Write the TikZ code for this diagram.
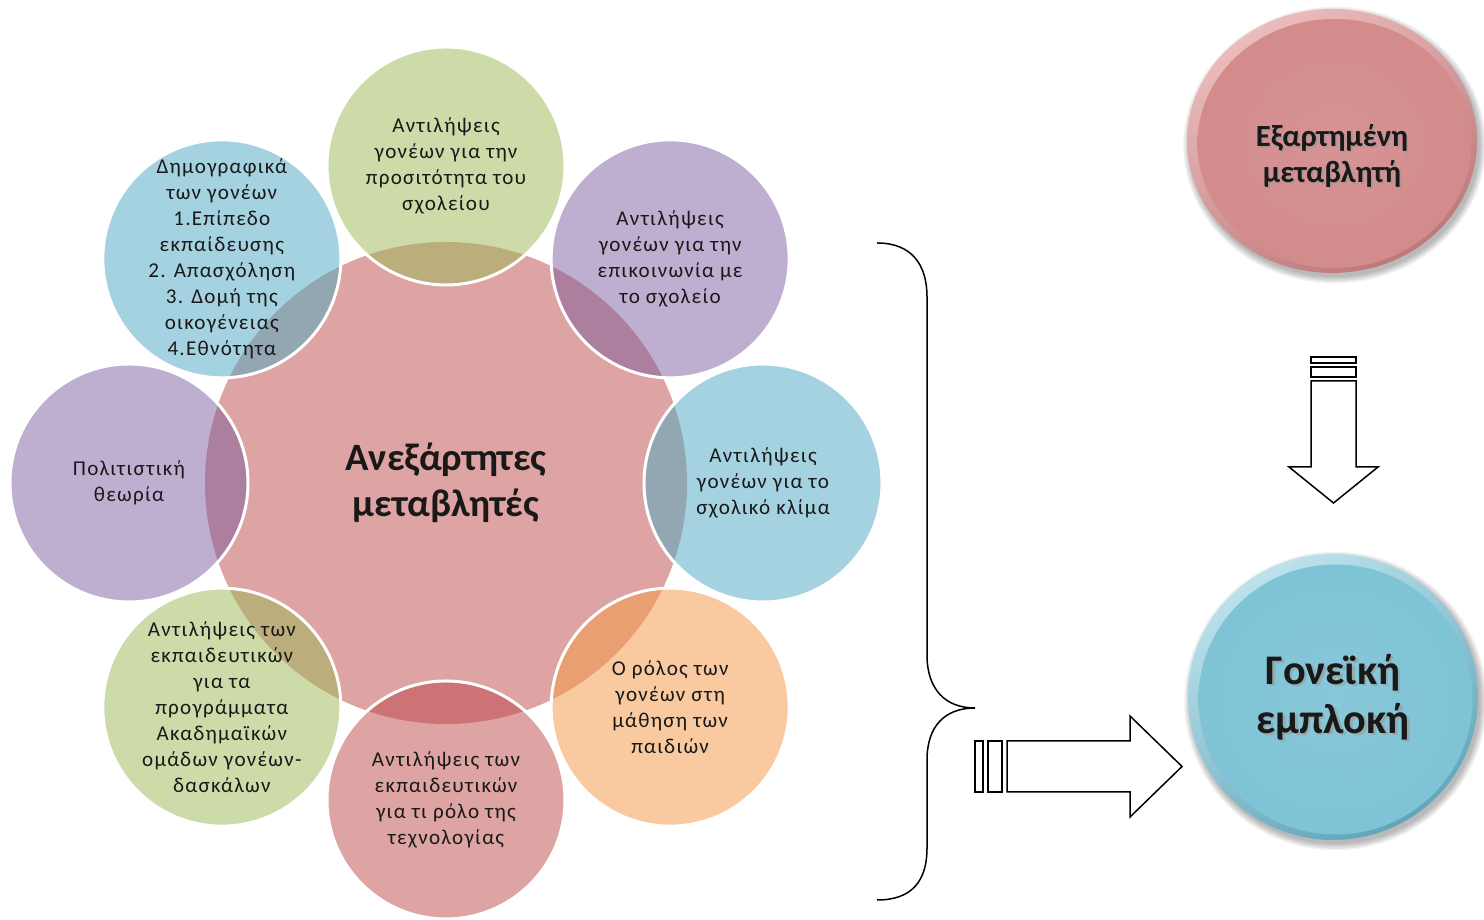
\documentclass[tikz,border=0pt]{standalone}
\usepackage{fontspec}
\setmainfont{Carlito}
\newfontfamily\satfont[LetterSpace=6]{Carlito}
\usetikzlibrary{shapes.geometric}

\definecolor{midpink}{RGB}{221,164,163}
\definecolor{satgreen}{RGB}{205,219,169}
\definecolor{satpurple}{RGB}{190,175,209}
\definecolor{satblue}{RGB}{165,210,224}
\definecolor{satorange}{RGB}{249,201,160}
\definecolor{satpink}{RGB}{221,164,163}
\definecolor{ovgreen}{RGB}{187,174,124}
\definecolor{ovpurple}{RGB}{173,127,159}
\definecolor{ovblue}{RGB}{146,167,178}
\definecolor{ovorange}{RGB}{234,159,114}
\definecolor{ovpink}{RGB}{206,115,117}
\definecolor{depface}{RGB}{211,139,140}
\definecolor{deprim}{RGB}{236,188,188}
\definecolor{depdark}{RGB}{188,120,122}
\definecolor{invface}{RGB}{126,195,214}
\definecolor{invrim}{RGB}{188,226,236}
\definecolor{invdark}{RGB}{98,165,186}

\tikzstyle{sattext}=[align=center,inner sep=0pt,text=black!90,
                     font=\satfont\fontsize{12}{14.8}\selectfont]
\tikzstyle{sat border}=[draw=white,line width=0.06cm]
\tikzstyle{block arrow}=[draw=black,fill=white,line width=0.03cm,line join=miter]
\tikzstyle{brace line}=[draw=black,line width=0.03cm]
\tikzstyle{btn shadow}=[fill=black,opacity=0.05]

\begin{document}
\begin{tikzpicture}

            \def\ring{6.34} % distance of the small circles from the middle
            \def\rsat{2.38} % radius of the small circles
            \def\rmid{4.82} % radius of the middle circle
            \useasboundingbox (0,0) rectangle (29.68,18.4);
            \coordinate (C) at (8.92,8.74);
            \coordinate (D) at (26.64,15.58); % dependent variable
            \coordinate (G) at (26.66,4.46);  % parental involvement

            % MIDDLE CIRCLE
            \fill[midpink] (C) circle (\rmid);

            % SMALL CIRCLES + overlap with the middle one
            \foreach \a/\fc/\oc [count=\i] in {90/satgreen/ovgreen,45/satpurple/ovpurple,
                0/satblue/ovblue,-45/satorange/ovorange,-90/satpink/ovpink,
                -135/satgreen/ovgreen,180/satpurple/ovpurple,135/satblue/ovblue}{
              \coordinate (p\i) at ([shift={(\a:\ring)}]C);
              \fill[\fc] (p\i) circle (\rsat);
              \begin{scope}
                \clip (C) circle (\rmid);
                \fill[\oc] (p\i) circle (\rsat);
              \end{scope}
              \draw[sat border] (p\i) circle (\rsat);
            }

            % LABELS
            \node[font=\bfseries\fontsize{22}{26}\selectfont,align=center,text=black!90]
              (indep) at (C) {Ανεξάρτητες\\μεταβλητές};
            \node[sattext] (access) at (p1) {Αντιλήψεις\\γονέων για την\\προσιτότητα του\\σχολείου};
            \node[sattext] (comm) at (p2) {Αντιλήψεις\\γονέων για την\\επικοινωνία με\\το σχολείο};
            \node[sattext] (climate) at (p3) {Αντιλήψεις\\γονέων για το\\σχολικό κλίμα};
            \node[sattext] (role) at (p4) {Ο ρόλος των\\γονέων στη\\μάθηση των\\παιδιών};
            \node[sattext] (techn) at (p5) {Αντιλήψεις των\\εκπαιδευτικών\\για τι ρόλο της\\τεχνολογίας};
            \node[sattext] (groups) at (p6) {Αντιλήψεις των\\εκπαιδευτικών\\για τα\\προγράμματα\\Ακαδημαϊκών\\ομάδων γονέων-\\δασκάλων};
            \node[sattext] (culture) at (p7) {Πολιτιστική\\θεωρία};
            \node[sattext] (demo) at (p8) {Δημογραφικά\\των γονέων\\1.Επίπεδο\\εκπαίδευσης\\2. Απασχόληση\\3. Δομή της\\οικογένειας\\4.Εθνότητα};

            % BRACE
            \draw[brace line] (17.54,13.54) .. controls (18.24,13.54) and (18.54,13.1) .. (18.54,12.46)
              -- (18.54,5.30) .. controls (18.54,4.62) and (18.9,4.24) .. (19.50,4.24)
              .. controls (18.9,4.24) and (18.54,3.88) .. (18.54,3.20)
              -- (18.54,1.44) .. controls (18.54,0.78) and (18.24,0.40) .. (17.54,0.40);

            % BUTTONS
            \foreach \k in {0,...,5}{
              \fill[btn shadow] ([shift={(0.05,-0.08)}]D) ellipse ({2.90+0.025*\k} and {2.64+0.025*\k});
              \fill[btn shadow] ([shift={(0.05,-0.08)}]G) ellipse ({2.90+0.025*\k} and {2.86+0.025*\k});
            }
            \shade[top color=deprim,bottom color=depdark,shading angle=30] (D) ellipse (2.90 and 2.64);
            \shade[inner color=depface!92!white,outer color=depface] ([shift={(0.05,-0.05)}]D) ellipse (2.74 and 2.49);
            \shade[top color=invrim,bottom color=invdark,shading angle=30] (G) ellipse (2.90 and 2.86);
            \shade[inner color=invface!92!white,outer color=invface] ([shift={(0.05,-0.05)}]G) ellipse (2.74 and 2.70);

            \node[align=center,text=black!40,opacity=0.6,font=\bfseries\fontsize{17.5}{20.5}\selectfont]
              at ([shift={(0.04,-0.35)}]D) {Εξαρτημένη\\μεταβλητή};
            \node[align=center,text=black!90,font=\bfseries\fontsize{17.5}{20.5}\selectfont]
              (dep) at ([shift={(0,-0.31)}]D) {Εξαρτημένη\\μεταβλητή};
            \node[align=center,text=black!40,opacity=0.6,font=\bfseries\fontsize{24}{28}\selectfont]
              at ([shift={(0.05,-0.05)}]G) {Γονεϊκή\\εμπλοκή};
            \node[align=center,text=black!90,font=\bfseries\fontsize{24}{28}\selectfont]
              (inv) at (G) {Γονεϊκή\\εμπλοκή};

            % ARROWS
            \draw[block arrow] (19.50,3.58) rectangle (19.66,2.56);
            \draw[block arrow] (19.76,3.58) rectangle (20.04,2.56);
            \draw[block arrow] (20.14,3.58) -- (22.60,3.58) -- (22.60,4.08) -- (23.64,3.07)
              -- (22.60,2.06) -- (22.60,2.56) -- (20.14,2.56) -- cycle;

            \draw[block arrow] (26.22,11.26) rectangle (27.12,11.14);
            \draw[block arrow] (26.22,11.06) rectangle (27.12,10.86);
            \draw[block arrow] (26.22,10.78) -- (26.22,9.06) -- (25.78,9.06) -- (26.67,8.34)
              -- (27.56,9.06) -- (27.12,9.06) -- (27.12,10.78) -- cycle;

\end{tikzpicture}
\end{document}
